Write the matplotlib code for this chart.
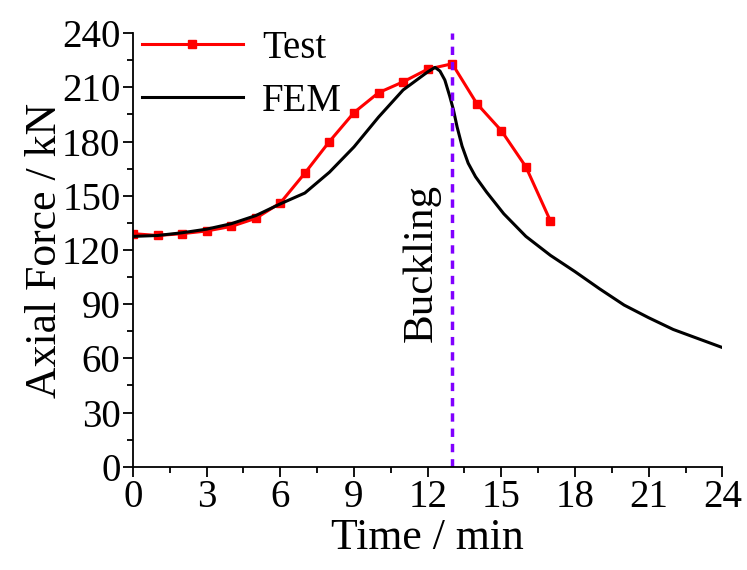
import matplotlib
matplotlib.use("Agg")
import matplotlib.pyplot as plt
from matplotlib.ticker import MultipleLocator

plt.rcParams['font.family'] = ['Liberation Serif', 'DejaVu Serif']
plt.rcParams['mathtext.fontset'] = 'stix'

# test data (one point per minute)
test_time = [0, 1, 2, 3, 4, 5, 6, 7, 8, 9, 10, 11, 12, 13, 14, 15, 16, 17]
test_force = [129, 128, 129, 130.5, 133, 137.5, 146, 162.5, 180, 196, 207, 213,
              220, 223, 201, 186, 166, 136]

# FEM curve
fem_time = [0, 1, 2, 3, 4, 5, 6, 7, 8, 9, 10, 11, 12, 12.3, 12.5, 12.7, 12.9,
            13.05, 13.2, 13.4, 13.65, 13.95, 14.4, 15.1, 16, 17, 18, 19, 20,
            21, 22, 23, 24]
fem_force = [127.5, 128, 129.5, 131.5, 134.5, 139, 145.5, 151.5, 163, 177,
             193.5, 208.5, 218.5, 221, 219, 214, 205, 197.5, 188, 177.5, 168,
             160.5, 152, 140, 127.5, 117, 108, 98.5, 89.5, 82.5, 76, 71, 66]

buckling_time = 13

fig = plt.figure(figsize=(7.47, 5.70), dpi=100)
ax = fig.add_axes([0.178, 0.181, 0.789, 0.761])

ax.plot(test_time, test_force, color="red", lw=2.2, marker="s", ms=6, label="Test")
ax.plot(fem_time, fem_force, color="black", lw=2.2, label="FEM")
ax.axvline(buckling_time, color="#8000ff", lw=2.5, ls=(0, (2.4, 2)))

ax.text(11.75, 113, "Buckling", rotation=90, ha="center", va="center", fontsize=31)

ax.set_xlim(0, 24)
ax.set_ylim(0, 240)
ax.xaxis.set_major_locator(MultipleLocator(3))
ax.xaxis.set_minor_locator(MultipleLocator(1.5))
ax.yaxis.set_major_locator(MultipleLocator(30))
ax.yaxis.set_minor_locator(MultipleLocator(15))
ax.tick_params(which="both", direction="out", labelsize=28, width=1.3)
ax.tick_params(which="major", length=7, pad=2)
ax.tick_params(which="minor", length=4)
ax.spines["top"].set_visible(False)
ax.spines["right"].set_visible(False)
ax.spines["left"].set_linewidth(1.3)
ax.spines["bottom"].set_linewidth(1.3)

ax.set_xlabel("Time / min", fontsize=31.5, labelpad=1)
ax.set_ylabel("Axial Force / kN", fontsize=31.5, labelpad=-2)

ax.legend(loc="upper left", bbox_to_anchor=(0.015, 1.008), fontsize=28,
          frameon=False, handlelength=2.6, borderaxespad=0.0, borderpad=0.0,
          labelspacing=0.42, handletextpad=0.5)

fig.savefig("out.png", dpi=100)
